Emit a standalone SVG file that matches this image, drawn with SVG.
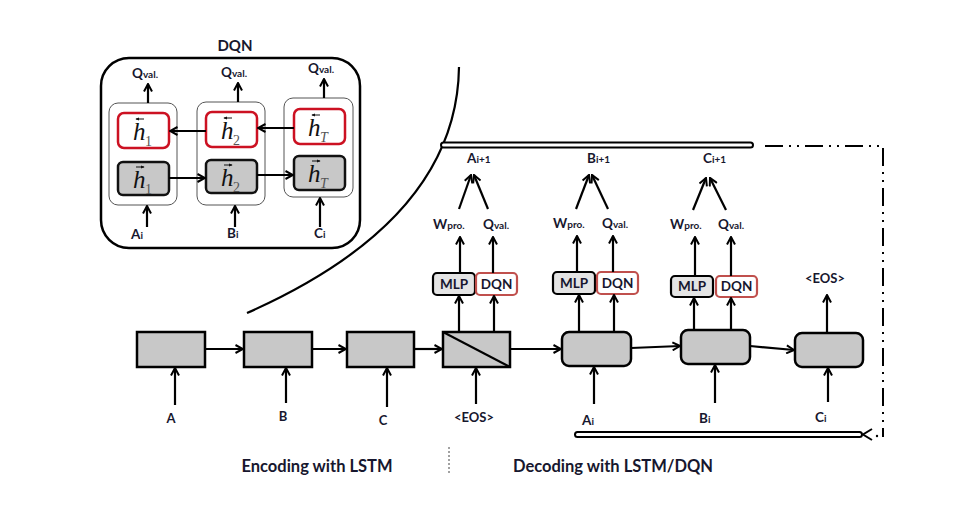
<svg xmlns="http://www.w3.org/2000/svg" width="970" height="519" viewBox="0 0 970 519">
<style>
.t{font-family:Lato,"Open Sans","Liberation Sans",sans-serif;font-weight:700;fill:#17172e}
.big{font-size:13.5px}
.sm{font-size:10px}
.ln{stroke:#000;stroke-width:2.2;fill:none}
.box{fill:#c8c8c8;stroke:#000;stroke-width:2.5}
.inner{fill:#fff;stroke:#555;stroke-width:1}
.red{fill:#fff;stroke:#cc1122;stroke-width:2.5}
.gray{fill:#c8c8c8;stroke:#111;stroke-width:2.5}
.mlp{fill:#e4e4e4;stroke:#000;stroke-width:2.2}
.dqn{fill:#fff;stroke:#c0504d;stroke-width:2.2}
.h{font-family:"Liberation Serif","DejaVu Serif",serif;font-style:italic;font-size:25px;fill:#111}
.sub{font-family:"Liberation Serif","DejaVu Serif",serif;font-size:14px;fill:#555}
.subi{font-family:"Liberation Serif","DejaVu Serif",serif;font-style:italic;font-size:14px;fill:#555}
.dbl{fill:#fff;stroke:#000;stroke-width:2}
.va{stroke:#111;stroke-width:1;fill:none}
</style>
<defs>
<marker id="arr" viewBox="0 0 10 10" refX="9" refY="5" markerWidth="10" markerHeight="10" orient="auto" markerUnits="userSpaceOnUse">
<path d="M1.5,1 L9,5 L1.5,9" fill="none" stroke="#000" stroke-width="2"/>
</marker>
<marker id="sa" viewBox="0 0 6 6" refX="5" refY="3" markerWidth="4" markerHeight="4" orient="auto" markerUnits="userSpaceOnUse">
<path d="M0,0.5 L6,3 L0,5.5 Z" fill="#111"/>
</marker>
</defs>
<rect width="970" height="519" fill="#fff"/>

<!-- DQN panel -->
<g id="dqn-panel">
<text class="t" x="235" y="51" text-anchor="middle" font-size="15">DQN</text>
<rect x="101" y="58" width="259" height="190" rx="28" fill="none" stroke="#000" stroke-width="2.5"/>
<rect class="inner" x="109" y="103" width="68" height="102" rx="9"/>
<rect class="inner" x="197" y="102" width="68" height="103" rx="9"/>
<rect class="inner" x="284" y="98" width="69" height="99" rx="9"/>
</g>
<g id="hb1"><rect class="red" x="118" y="113" width="51" height="35" rx="6"/>
<text class="h" x="133" y="140">h</text><text class="sub" x="145" y="146">1</text>
<path class="va" d="M144,119 H136" marker-end="url(#sa)"/></g>
<g id="hb2"><rect class="red" x="206" y="112" width="51" height="35" rx="6"/>
<text class="h" x="221" y="139">h</text><text class="sub" x="233" y="145">2</text>
<path class="va" d="M232,118 H224" marker-end="url(#sa)"/></g>
<g id="hbT"><rect class="red" x="294" y="109" width="51" height="35" rx="6"/>
<text class="h" x="308" y="136">h</text><text class="subi" x="320" y="142">T</text>
<path class="va" d="M320,115 H312" marker-end="url(#sa)"/></g>
<g id="hf1"><rect class="gray" x="118" y="162" width="51" height="33" rx="5"/>
<text class="h" x="133" y="188">h</text><text class="sub" x="145" y="194">1</text>
<path class="va" d="M136,167 H144" marker-end="url(#sa)"/></g>
<g id="hf2"><rect class="gray" x="206" y="160" width="51" height="33" rx="5"/>
<text class="h" x="221" y="186">h</text><text class="sub" x="233" y="192">2</text>
<path class="va" d="M224,165 H232" marker-end="url(#sa)"/></g>
<g id="hfT"><rect class="gray" x="294" y="156" width="51" height="34" rx="5"/>
<text class="h" x="308" y="182">h</text><text class="subi" x="320" y="188">T</text>
<path class="va" d="M312,161 H320" marker-end="url(#sa)"/></g>
<g id="dqn-labels">
<text class="t" x="132" y="78"><tspan class="big">Q</tspan><tspan class="sm">val.</tspan></text>
<text class="t" x="221" y="77"><tspan class="big">Q</tspan><tspan class="sm">val.</tspan></text>
<text class="t" x="308" y="73"><tspan class="big">Q</tspan><tspan class="sm">val.</tspan></text>
<text class="t" x="131" y="239"><tspan class="big">A</tspan><tspan class="sm">i</tspan></text>
<text class="t" x="227" y="238"><tspan class="big">B</tspan><tspan class="sm">i</tspan></text>
<text class="t" x="314" y="238"><tspan class="big">C</tspan><tspan class="sm">i</tspan></text>
</g>

<!-- separator arc -->
<path d="M459,67 Q457,220 247,313" fill="none" stroke="#000" stroke-width="2.2"/>

<!-- encoder / decoder cells -->
<g id="e1"><rect class="box" x="137" y="332" width="68" height="35"/></g>
<g id="e2"><rect class="box" x="244" y="332" width="68" height="35"/></g>
<g id="e3"><rect class="box" x="347" y="332" width="67" height="35"/></g>
<g id="e4"><rect class="box" x="443" y="332" width="67" height="35"/><line x1="443" y1="332" x2="510" y2="367" stroke="#000" stroke-width="2"/></g>
<g id="d1"><rect class="box" x="562" y="332" width="69" height="34" rx="7"/></g>
<g id="d2"><rect class="box" x="681" y="330" width="69" height="34" rx="7"/></g>
<g id="d3"><rect class="box" x="795" y="333" width="68" height="34" rx="7"/></g>

<g id="m1"><rect class="mlp" x="433" y="273" width="42" height="22" rx="4"/><text class="t" x="454" y="289" text-anchor="middle" font-size="13.5">MLP</text></g>
<g id="q1"><rect class="dqn" x="476" y="273" width="41" height="22" rx="4"/><text class="t" x="496.5" y="289" text-anchor="middle" font-size="13.5">DQN</text></g>
<g id="m2"><rect class="mlp" x="553" y="272" width="42" height="22" rx="4"/><text class="t" x="574" y="288" text-anchor="middle" font-size="13.5">MLP</text></g>
<g id="q2"><rect class="dqn" x="597" y="272" width="41" height="22" rx="4"/><text class="t" x="617.5" y="288" text-anchor="middle" font-size="13.5">DQN</text></g>
<g id="m3"><rect class="mlp" x="671" y="276" width="42" height="21" rx="4"/><text class="t" x="692" y="291" text-anchor="middle" font-size="13.5">MLP</text></g>
<g id="q3"><rect class="dqn" x="716" y="276" width="41" height="21" rx="4"/><text class="t" x="736.5" y="291" text-anchor="middle" font-size="13.5">DQN</text></g>

<!-- double bars -->
<rect class="dbl" x="441" y="142.5" width="312" height="5" rx="2.5"/>
<rect class="dbl" x="575" y="432" width="287" height="5" rx="2.5"/>

<!-- labels -->
<g id="labels">
<text class="t" x="171" y="423" text-anchor="middle" font-size="13">A</text>
<text class="t" x="283" y="421" text-anchor="middle" font-size="13">B</text>
<text class="t" x="383" y="425" text-anchor="middle" font-size="13">C</text>
<text class="t" x="474" y="422" text-anchor="middle" font-size="13">&lt;EOS&gt;</text>
<text class="t" x="582" y="425"><tspan class="big">A</tspan><tspan class="sm">i</tspan></text>
<text class="t" x="699" y="423"><tspan class="big">B</tspan><tspan class="sm">i</tspan></text>
<text class="t" x="815" y="422"><tspan class="big">C</tspan><tspan class="sm">i</tspan></text>
<text class="t" x="825" y="283" text-anchor="middle" font-size="13">&lt;EOS&gt;</text>
<text class="t" x="467" y="163"><tspan class="big">A</tspan><tspan class="sm">i+1</tspan></text>
<text class="t" x="587" y="163"><tspan class="big">B</tspan><tspan class="sm">i+1</tspan></text>
<text class="t" x="703" y="163"><tspan class="big">C</tspan><tspan class="sm">i+1</tspan></text>
<text class="t" x="433" y="229"><tspan class="big">W</tspan><tspan class="sm">pro.</tspan></text>
<text class="t" x="483" y="229"><tspan class="big">Q</tspan><tspan class="sm">val.</tspan></text>
<text class="t" x="553" y="228"><tspan class="big">W</tspan><tspan class="sm">pro.</tspan></text>
<text class="t" x="602" y="228"><tspan class="big">Q</tspan><tspan class="sm">val.</tspan></text>
<text class="t" x="670" y="229"><tspan class="big">W</tspan><tspan class="sm">pro.</tspan></text>
<text class="t" x="718" y="229"><tspan class="big">Q</tspan><tspan class="sm">val.</tspan></text>
<text class="t" x="317" y="472" text-anchor="middle" font-size="16.5">Encoding with LSTM</text>
<text class="t" x="613" y="472" text-anchor="middle" font-size="16.5">Decoding with LSTM/DQN</text>
</g>

<g id="connectors">
<!-- DQN panel -->
<path class="ln" d="M148,103 V84" marker-end="url(#arr)"/>
<path class="ln" d="M238,102 V83" marker-end="url(#arr)"/>
<path class="ln" d="M324,98 V79" marker-end="url(#arr)"/>
<path class="ln" d="M147,227 V206" marker-end="url(#arr)"/>
<path class="ln" d="M235,227 V206" marker-end="url(#arr)"/>
<path class="ln" d="M320,227 V198" marker-end="url(#arr)"/>
<path class="ln" d="M206,131 H170" marker-end="url(#arr)"/>
<path class="ln" d="M294,128 H258" marker-end="url(#arr)"/>
<path class="ln" d="M169,178 H205" marker-end="url(#arr)"/>
<path class="ln" d="M257,175 H293" marker-end="url(#arr)"/>
<!-- encoder chain -->
<path class="ln" d="M205,349 H243" marker-end="url(#arr)"/>
<path class="ln" d="M312,349 H346" marker-end="url(#arr)"/>
<path class="ln" d="M414,349 H442" marker-end="url(#arr)"/>
<path class="ln" d="M510,349 H561" marker-end="url(#arr)"/>
<path class="ln" d="M631,348 L680,346" marker-end="url(#arr)"/>
<path class="ln" d="M750,346 L794,350" marker-end="url(#arr)"/>
<!-- inputs -->
<path class="ln" d="M175,405 V368" marker-end="url(#arr)"/>
<path class="ln" d="M286,403 V368" marker-end="url(#arr)"/>
<path class="ln" d="M387,407 V368" marker-end="url(#arr)"/>
<path class="ln" d="M476,404 V368" marker-end="url(#arr)"/>
<path class="ln" d="M594,404 V367" marker-end="url(#arr)"/>
<path class="ln" d="M715,403 V365" marker-end="url(#arr)"/>
<path class="ln" d="M828,402 V368" marker-end="url(#arr)"/>
<!-- cell to MLP/DQN -->
<path class="ln" d="M459,332 V296" marker-end="url(#arr)"/>
<path class="ln" d="M494,332 V296" marker-end="url(#arr)"/>
<path class="ln" d="M579,332 V295" marker-end="url(#arr)"/>
<path class="ln" d="M614,332 V295" marker-end="url(#arr)"/>
<path class="ln" d="M694,330 V298" marker-end="url(#arr)"/>
<path class="ln" d="M731,330 V298" marker-end="url(#arr)"/>
<path class="ln" d="M827,333 V295" marker-end="url(#arr)"/>
<!-- MLP/DQN to labels -->
<path class="ln" d="M460,273 V237" marker-end="url(#arr)"/>
<path class="ln" d="M493,273 V237" marker-end="url(#arr)"/>
<path class="ln" d="M577,272 V236" marker-end="url(#arr)"/>
<path class="ln" d="M613,272 V236" marker-end="url(#arr)"/>
<path class="ln" d="M695,276 V237" marker-end="url(#arr)"/>
<path class="ln" d="M731,276 V237" marker-end="url(#arr)"/>
<!-- converging -->
<path class="ln" d="M459,209 L471,175" marker-end="url(#arr)"/>
<path class="ln" d="M488,209 L474,175" marker-end="url(#arr)"/>
<path class="ln" d="M576,209 L589,175" marker-end="url(#arr)"/>
<path class="ln" d="M608,209 L592,175" marker-end="url(#arr)"/>
<path class="ln" d="M693,210 L706,178" marker-end="url(#arr)"/>
<path class="ln" d="M726,210 L710,178" marker-end="url(#arr)"/>
<!-- feedback loop -->
<path d="M765,146 H883 V437" fill="none" stroke="#000" stroke-width="2" stroke-dasharray="18 6 2 6 2 6"/>
<path d="M872,429 L863,434.5 L872,440" fill="none" stroke="#000" stroke-width="2"/>
<circle cx="877" cy="436" r="1.2" fill="#000"/>
<!-- divider -->
<line x1="449" y1="447" x2="449" y2="475" stroke="#444" stroke-width="1" stroke-dasharray="2 2"/>
</g>
</svg>
